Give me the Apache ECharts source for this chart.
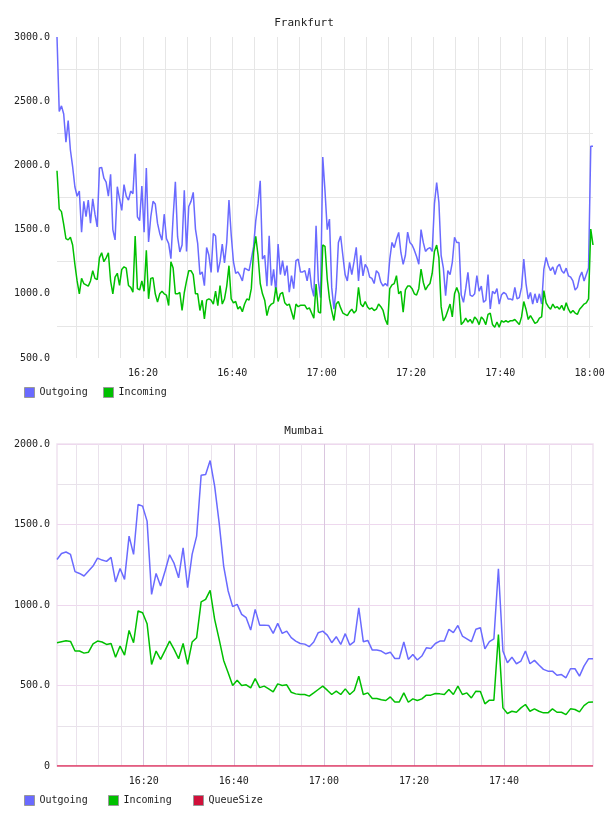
<!DOCTYPE html>
<html>
<head>
<meta charset="utf-8">
<script src="https://cdn.jsdelivr.net/npm/echarts@6/dist/echarts.min.js"></script>
<style>
html,body{margin:0;padding:0;background:#fff;}
#c{width:608px;height:816px;}
</style>
</head>
<body>
<div id="c"></div>
<script>
// ---- data ----
const START = Date.UTC(2020, 0, 1, 16, 0, 45);
const FRA_STEP_MS = 30000;   // Frankfurt sample interval
const MUM_STEP_MS = 60000;   // Mumbai sample interval
const GRID_STEP_MS = 300000; // vertical grid every 5 minutes
const FIRST_GRID = Date.UTC(2020, 0, 1, 16, 5, 0);

const fraOutgoing = [
3000,2420,2464,2400,2180,2350,2120,1990,1834,1760,
1800,1480,1720,1600,1730,1550,1740,1620,1521,1980,
1984,1900,1870,1760,1930,1500,1420,1834,1740,1650,
1850,1760,1730,1800,1780,2090,1600,1570,1840,1480,
1980,1404,1600,1720,1700,1550,1470,1417,1620,1430,
1391,1274,1600,1872,1443,1326,1380,1807,1330,1680,
1720,1790,1504,1390,1150,1170,1064,1360,1300,1167,
1470,1450,1167,1250,1387,1240,1400,1730,1460,1250,
1160,1170,1141,1100,1200,1190,1180,1270,1365,1570,
1700,1880,1271,1300,1060,1452,1064,1190,1012,1387,
1150,1258,1141,1220,1012,1141,1040,1258,1270,1170,
1170,1180,1100,1200,1050,980,1530,1100,970,2065,
1800,1500,1582,1050,880,1040,1400,1450,1297,1150,
1100,1245,1150,1250,1362,1100,1300,1140,1230,1200,
1130,1120,1080,1180,1160,1090,1060,1080,1060,1270,
1400,1360,1426,1478,1320,1230,1300,1480,1400,1380,
1340,1290,1230,1500,1400,1330,1350,1360,1330,1700,
1867,1711,1300,1200,986,1180,1150,1245,1440,1400,
1400,990,934,1040,1167,990,980,1000,1141,1020,
1060,934,950,1150,882,1020,1000,1040,920,990,
1010,1000,960,960,950,1050,960,970,1050,1271,
1080,960,1010,920,1000,930,1000,920,1193,1284,
1220,1180,1210,1150,1210,1230,1180,1160,1200,1140,
1130,1100,1030,1050,1130,1170,1100,1150,1200,2150,
2150];

const fraIncoming = [
1958,1660,1640,1540,1430,1420,1440,1380,1230,1100,
1000,1120,1080,1070,1060,1100,1180,1120,1110,1280,
1320,1250,1280,1320,1100,1000,1130,1160,1065,1190,
1210,1200,1065,1050,1013,1450,1040,1030,1100,1020,
1339,961,1120,1125,1000,935,1000,1020,1000,990,
909,1250,1200,1000,1000,1010,870,1010,1100,1180,
1180,1150,1000,1000,870,950,805,950,960,950,
920,1020,908,1064,920,960,1060,1219,960,930,
940,882,900,860,920,960,950,1040,1323,1447,
1300,1080,1000,950,830,900,920,930,1050,940,
1000,1010,930,910,920,860,800,920,900,910,
910,910,880,890,850,810,1076,860,850,1380,
1370,1115,960,869,792,920,940,890,850,840,
830,860,880,850,870,1051,920,900,940,900,
880,890,870,880,920,900,870,800,760,1040,
1070,1080,1141,1000,1020,856,1030,1060,1060,1040,
1000,990,1040,1193,1090,1030,1060,1080,1160,1330,
1380,1280,900,790,820,870,920,820,1000,1050,
1000,760,780,810,780,800,770,820,800,760,
820,800,760,840,850,760,740,780,740,790,
780,790,780,790,790,800,780,760,820,940,
880,800,830,800,770,780,810,820,1025,930,
900,880,920,890,900,880,910,870,930,880,
850,870,850,840,880,900,920,930,960,1504,
1380];

const mumOutgoing = [
1283,1320,1329,1314,1207,1196,1180,1211,1242,1291,
1279,1271,1296,1143,1227,1159,1428,1314,1624,1614,
1521,1066,1196,1118,1211,1312,1258,1169,1355,1107,
1314,1428,1806,1810,1897,1738,1510,1242,1087,990,
1004,942,921,844,973,875,875,873,824,886,
824,838,797,776,
761,757,741,770,828,838,813,766,803,755,
822,751,772,983,772,780,720,720,714,697,
707,668,668,770,662,693,658,683,734,730,
761,776,776,849,828,873,807,790,772,849,
859,728,772,790,1225,714,641,676,635,652,
714,635,656,627,600,589,589,564,568,548,
604,604,558,620,666,666];

const mumIncoming = [
766,772,778,774,714,714,701,707,759,776,
770,755,761,676,745,689,842,766,963,952,
884,631,714,662,718,776,724,666,761,631,
770,797,1019,1035,1091,911,786,656,579,500,
533,500,504,485,543,487,496,479,460,510,
500,504,458,448,
444,444,434,454,475,496,471,444,465,444,
479,444,469,558,444,454,419,419,411,407,
429,398,398,454,396,417,407,417,440,440,
450,448,444,475,444,496,444,454,423,465,
463,386,409,409,817,361,326,340,334,361,
382,340,355,340,330,330,355,334,334,319,
355,351,336,375,396,398];

const mumQueueSize = [
0,0,0,0,0,0,0,0,0,0,0,0,0,0,0,0,0,0,0,0,
0,0,0,0,0,0,0,0,0,0,0,0,0,0,0,0,0,0,0,0,
0,0,0,0,0,0,0,0,0,0,0,0,0,0,0,0,0,0,0,0,
0,0,0,0,0,0,0,0,0,0,0,0,0,0,0,0,0,0,0,0,
0,0,0,0,0,0,0,0,0,0,0,0,0,0,0,0,0,0,0,0,
0,0,0,0,0,0,0,0,0,0,0,0,0,0,0,0,0,0,0,0];

const titles = ['Frankfurt', 'Mumbai'];
const seriesNames = ['Outgoing', 'Incoming', 'QueueSize'];

// ---- build ----
function pairs(arr, step) { return arr.map((v, i) => [START + i * step, v]); }
function pad(n) { return (n < 10 ? '0' : '') + n; }
function timeLabel(val) {
  const d = new Date(val);
  const m = d.getUTCMinutes();
  if (m % 20 !== 0 || d.getUTCSeconds() !== 0) return '';
  return pad(d.getUTCHours()) + ':' + pad(m);
}
function gridTimes(end) {
  const out = [];
  for (let t = FIRST_GRID; t <= end; t += GRID_STEP_MS) out.push(t);
  return out;
}
const MONO = 'DejaVu Sans Mono';
const C_OUT = '#6a6aff', C_IN = '#00c000', C_Q = '#d0103a';

const fraEnd = START + (fraOutgoing.length - 1) * FRA_STEP_MS;
const mumEnd = START + (mumOutgoing.length - 1) * MUM_STEP_MS;

const fraGridLines = gridTimes(fraEnd).map(t => ({ xAxis: t }));
const mumGridLines = gridTimes(mumEnd).map(t => {
  const major = new Date(t).getUTCMinutes() % 20 === 0;
  return { xAxis: t, lineStyle: { color: major ? '#dac6df' : '#eae2ec' } };
});

const chart = echarts.init(document.getElementById('c'), null, { renderer: 'canvas' });
const labelStyle = { fontFamily: MONO, fontSize: 10, color: '#222' };

function gridSeries(axis, lines, color) {
  return {
    type: 'line', xAxisIndex: axis, yAxisIndex: axis, data: [], z: 0, silent: true,
    markLine: { silent: true, symbol: ['none', 'none'], label: { show: false }, animation: false, z: 0,
      lineStyle: { type: 'solid', width: 1, color: color }, emphasis: { disabled: true }, data: lines }
  };
}

const option = {
  animation: false,
  useUTC: true,
  backgroundColor: '#fff',
  title: [
    { text: titles[0], left: 'center', top: 13, textStyle: { fontFamily: MONO, fontSize: 11, fontWeight: 'normal', color: '#222' } },
    { text: titles[1], left: 'center', top: 421, textStyle: { fontFamily: MONO, fontSize: 11, fontWeight: 'normal', color: '#222' } }
  ],
  legend: [
    { data: [seriesNames[0]], left: 24, top: 387 },
    { data: [seriesNames[1]], left: 103, top: 387 },
    { data: [seriesNames[0]], left: 24, top: 795 },
    { data: [seriesNames[1]], left: 108, top: 795 },
    { data: [seriesNames[2]], left: 193, top: 795 }
  ].map(l => Object.assign(l, {
    icon: 'rect', itemWidth: 10, itemHeight: 10, padding: 0, selectedMode: false,
    itemStyle: { borderColor: '#999', borderWidth: 1 },
    textStyle: { fontFamily: MONO, fontSize: 10, color: '#222', padding: [0, 0, 0, 0] }
  })),
  grid: [
    { left: 57, right: 15, top: 37, height: 321, show: false },
    { left: 57, right: 15, top: 444, height: 322, show: true, borderColor: '#efe2f0', borderWidth: 1.5 }
  ],
  xAxis: [
    { type: 'time', gridIndex: 0, min: START, max: fraEnd, splitNumber: 24,
      axisLine: { show: false }, axisTick: { show: false },
      axisLabel: Object.assign({ formatter: timeLabel, margin: 10, hideOverlap: false, showMinLabel: false, showMaxLabel: false }, labelStyle),
      splitLine: { show: false } },
    { type: 'time', gridIndex: 1, min: START, max: mumEnd, splitNumber: 24,
      axisLine: { show: false }, axisTick: { show: false },
      axisLabel: Object.assign({ formatter: timeLabel, margin: 10, hideOverlap: false, showMinLabel: false, showMaxLabel: false }, labelStyle),
      splitLine: { show: false } }
  ],
  yAxis: [
    { type: 'value', gridIndex: 0, min: 500, max: 3000, interval: 500,
      axisLine: { show: false }, axisTick: { show: false },
      axisLabel: Object.assign({ formatter: v => v.toFixed(1), margin: 7 }, labelStyle),
      splitLine: { show: false },
      minorTick: { show: false, splitNumber: 2 },
      minorSplitLine: { show: true, lineStyle: { color: '#e6e6e6', width: 1 } } },
    { type: 'value', gridIndex: 1, min: 0, max: 2000, interval: 500,
      axisLine: { show: false }, axisTick: { show: false },
      axisLabel: Object.assign({ formatter: v => v === 0 ? '0' : v.toFixed(1), margin: 7 }, labelStyle),
      splitLine: { show: true, lineStyle: { color: '#eed8ee', width: 1 } },
      minorTick: { show: false, splitNumber: 2 },
      minorSplitLine: { show: true, lineStyle: { color: '#e8e2ea', width: 1 } } }
  ],
  series: [
    gridSeries(0, fraGridLines, '#e6e6e6'),
    gridSeries(1, mumGridLines, '#eae2ec'),
    { name: seriesNames[0], type: 'line', xAxisIndex: 0, yAxisIndex: 0, data: pairs(fraOutgoing, FRA_STEP_MS), z: 3,
      showSymbol: false, lineStyle: { color: C_OUT, width: 1.5 }, itemStyle: { color: C_OUT } },
    { name: seriesNames[1], type: 'line', xAxisIndex: 0, yAxisIndex: 0, data: pairs(fraIncoming, FRA_STEP_MS), z: 3,
      showSymbol: false, lineStyle: { color: C_IN, width: 1.5 }, itemStyle: { color: C_IN } },
    { name: seriesNames[0], type: 'line', xAxisIndex: 1, yAxisIndex: 1, data: pairs(mumOutgoing, MUM_STEP_MS), z: 3,
      showSymbol: false, lineStyle: { color: C_OUT, width: 1.5 }, itemStyle: { color: C_OUT } },
    { name: seriesNames[1], type: 'line', xAxisIndex: 1, yAxisIndex: 1, data: pairs(mumIncoming, MUM_STEP_MS), z: 3,
      showSymbol: false, lineStyle: { color: C_IN, width: 1.5 }, itemStyle: { color: C_IN } },
    { name: seriesNames[2], type: 'line', xAxisIndex: 1, yAxisIndex: 1, data: pairs(mumQueueSize, MUM_STEP_MS), z: 3,
      showSymbol: false, lineStyle: { color: '#e0305a', width: 1.5 }, itemStyle: { color: C_Q } }
  ]
};
chart.setOption(option);
</script>
</body>
</html>
